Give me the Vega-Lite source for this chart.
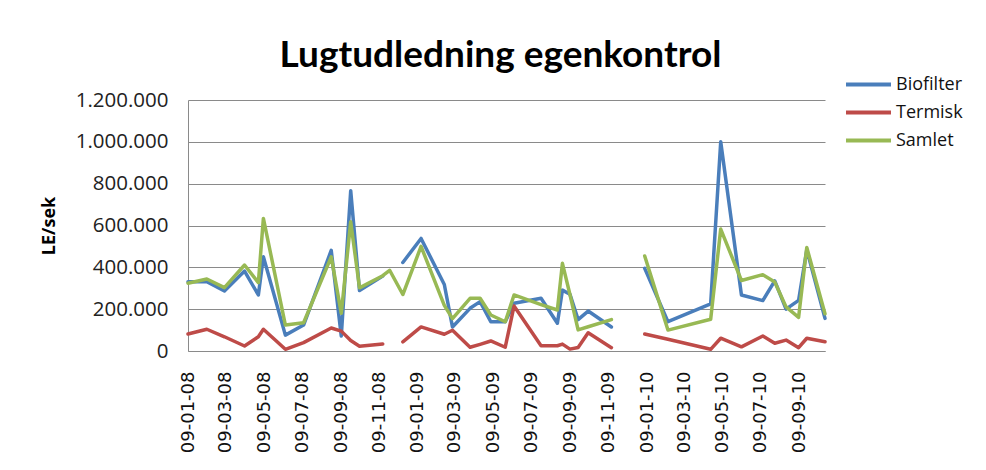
{
  "$schema": "https://vega.github.io/schema/vega-lite/v6.json",
  "autosize": {"type": "none"},
  "width": 637,
  "height": 251,
  "padding": {"left": 188, "top": 100, "right": 161, "bottom": 119},
  "background": "white",
  "config": {
    "locale": {"number": {"decimal": ",", "thousands": ".", "grouping": [3], "currency": ["", " kr."]}},
    "view": {"stroke": null},
    "axis": {"gridColor": "#8a8a8a", "gridWidth": 1, "domainColor": "#8a8a8a", "domainWidth": 1, "ticks": false}
  },
  "title": {"text": "Lugtudledning egenkontrol", "font": "Lato", "fontSize": 37, "fontWeight": "bold", "color": "#000000", "anchor": "middle", "offset": -4, "dx": -6},
  "data": {"values": [
    {"date": "2008-01-09", "serie": "Biofilter", "value": 331000},
    {"date": "2008-02-08", "serie": "Biofilter", "value": 331000},
    {"date": "2008-03-07", "serie": "Biofilter", "value": 287000},
    {"date": "2008-04-08", "serie": "Biofilter", "value": 382000},
    {"date": "2008-04-30", "serie": "Biofilter", "value": 268000},
    {"date": "2008-05-08", "serie": "Biofilter", "value": 451000},
    {"date": "2008-06-12", "serie": "Biofilter", "value": 76000},
    {"date": "2008-07-11", "serie": "Biofilter", "value": 124000},
    {"date": "2008-08-24", "serie": "Biofilter", "value": 481000},
    {"date": "2008-09-09", "serie": "Biofilter", "value": 72000},
    {"date": "2008-09-24", "serie": "Biofilter", "value": 766000},
    {"date": "2008-10-08", "serie": "Biofilter", "value": 289000},
    {"date": "2008-11-14", "serie": "Biofilter", "value": 358000},
    {"date": "2008-11-25", "serie": "Biofilter", "value": null},
    {"date": "2008-12-16", "serie": "Biofilter", "value": 423000},
    {"date": "2009-01-14", "serie": "Biofilter", "value": 538000},
    {"date": "2009-02-20", "serie": "Biofilter", "value": 318000},
    {"date": "2009-03-05", "serie": "Biofilter", "value": 115000},
    {"date": "2009-04-02", "serie": "Biofilter", "value": 204000},
    {"date": "2009-04-18", "serie": "Biofilter", "value": 236000},
    {"date": "2009-05-05", "serie": "Biofilter", "value": 140000},
    {"date": "2009-05-28", "serie": "Biofilter", "value": 140000},
    {"date": "2009-06-11", "serie": "Biofilter", "value": 228000},
    {"date": "2009-07-24", "serie": "Biofilter", "value": 252000},
    {"date": "2009-08-19", "serie": "Biofilter", "value": 133000},
    {"date": "2009-08-27", "serie": "Biofilter", "value": 291000},
    {"date": "2009-09-08", "serie": "Biofilter", "value": 271000},
    {"date": "2009-09-21", "serie": "Biofilter", "value": 150000},
    {"date": "2009-10-07", "serie": "Biofilter", "value": 191000},
    {"date": "2009-11-13", "serie": "Biofilter", "value": 115000},
    {"date": "2009-12-09", "serie": "Biofilter", "value": null},
    {"date": "2010-01-05", "serie": "Biofilter", "value": 395000},
    {"date": "2010-02-11", "serie": "Biofilter", "value": 140000},
    {"date": "2010-04-20", "serie": "Biofilter", "value": 225000},
    {"date": "2010-05-06", "serie": "Biofilter", "value": 1000000},
    {"date": "2010-06-08", "serie": "Biofilter", "value": 268000},
    {"date": "2010-07-12", "serie": "Biofilter", "value": 241000},
    {"date": "2010-07-31", "serie": "Biofilter", "value": 335000},
    {"date": "2010-08-18", "serie": "Biofilter", "value": 200000},
    {"date": "2010-09-07", "serie": "Biofilter", "value": 242000},
    {"date": "2010-09-20", "serie": "Biofilter", "value": 484000},
    {"date": "2010-10-19", "serie": "Biofilter", "value": 156000},

    {"date": "2008-01-09", "serie": "Termisk", "value": 81000},
    {"date": "2008-02-08", "serie": "Termisk", "value": 104000},
    {"date": "2008-03-07", "serie": "Termisk", "value": 68000},
    {"date": "2008-04-08", "serie": "Termisk", "value": 24000},
    {"date": "2008-04-30", "serie": "Termisk", "value": 68000},
    {"date": "2008-05-08", "serie": "Termisk", "value": 104000},
    {"date": "2008-06-12", "serie": "Termisk", "value": 8000},
    {"date": "2008-07-11", "serie": "Termisk", "value": 40000},
    {"date": "2008-08-24", "serie": "Termisk", "value": 110000},
    {"date": "2008-09-09", "serie": "Termisk", "value": 95000},
    {"date": "2008-09-24", "serie": "Termisk", "value": 50000},
    {"date": "2008-10-08", "serie": "Termisk", "value": 23000},
    {"date": "2008-11-14", "serie": "Termisk", "value": 34000},
    {"date": "2008-11-25", "serie": "Termisk", "value": null},
    {"date": "2008-12-16", "serie": "Termisk", "value": 44000},
    {"date": "2009-01-14", "serie": "Termisk", "value": 115000},
    {"date": "2009-02-20", "serie": "Termisk", "value": 80000},
    {"date": "2009-03-05", "serie": "Termisk", "value": 99000},
    {"date": "2009-04-02", "serie": "Termisk", "value": 18000},
    {"date": "2009-04-18", "serie": "Termisk", "value": 32000},
    {"date": "2009-05-05", "serie": "Termisk", "value": 48000},
    {"date": "2009-05-28", "serie": "Termisk", "value": 18000},
    {"date": "2009-06-11", "serie": "Termisk", "value": 215000},
    {"date": "2009-07-24", "serie": "Termisk", "value": 25000},
    {"date": "2009-08-19", "serie": "Termisk", "value": 25000},
    {"date": "2009-08-27", "serie": "Termisk", "value": 33000},
    {"date": "2009-09-08", "serie": "Termisk", "value": 9000},
    {"date": "2009-09-21", "serie": "Termisk", "value": 17000},
    {"date": "2009-10-07", "serie": "Termisk", "value": 87000},
    {"date": "2009-11-13", "serie": "Termisk", "value": 16000},
    {"date": "2009-12-09", "serie": "Termisk", "value": null},
    {"date": "2010-01-05", "serie": "Termisk", "value": 81000},
    {"date": "2010-02-11", "serie": "Termisk", "value": 56000},
    {"date": "2010-04-20", "serie": "Termisk", "value": 8000},
    {"date": "2010-05-06", "serie": "Termisk", "value": 61000},
    {"date": "2010-06-08", "serie": "Termisk", "value": 20000},
    {"date": "2010-07-12", "serie": "Termisk", "value": 72000},
    {"date": "2010-07-31", "serie": "Termisk", "value": 37000},
    {"date": "2010-08-18", "serie": "Termisk", "value": 52000},
    {"date": "2010-09-07", "serie": "Termisk", "value": 16000},
    {"date": "2010-09-20", "serie": "Termisk", "value": 61000},
    {"date": "2010-10-19", "serie": "Termisk", "value": 44000},

    {"date": "2008-01-09", "serie": "Samlet", "value": 324000},
    {"date": "2008-02-08", "serie": "Samlet", "value": 344000},
    {"date": "2008-03-07", "serie": "Samlet", "value": 303000},
    {"date": "2008-04-08", "serie": "Samlet", "value": 411000},
    {"date": "2008-04-30", "serie": "Samlet", "value": 327000},
    {"date": "2008-05-08", "serie": "Samlet", "value": 634000},
    {"date": "2008-06-12", "serie": "Samlet", "value": 124000},
    {"date": "2008-07-11", "serie": "Samlet", "value": 135000},
    {"date": "2008-08-24", "serie": "Samlet", "value": 450000},
    {"date": "2008-09-09", "serie": "Samlet", "value": 180000},
    {"date": "2008-09-24", "serie": "Samlet", "value": 618000},
    {"date": "2008-10-08", "serie": "Samlet", "value": 302000},
    {"date": "2008-11-14", "serie": "Samlet", "value": 360000},
    {"date": "2008-11-25", "serie": "Samlet", "value": 386000},
    {"date": "2008-12-16", "serie": "Samlet", "value": 270000},
    {"date": "2009-01-14", "serie": "Samlet", "value": 500000},
    {"date": "2009-02-20", "serie": "Samlet", "value": 218000},
    {"date": "2009-03-05", "serie": "Samlet", "value": 155000},
    {"date": "2009-04-02", "serie": "Samlet", "value": 252000},
    {"date": "2009-04-18", "serie": "Samlet", "value": 252000},
    {"date": "2009-05-05", "serie": "Samlet", "value": 172000},
    {"date": "2009-05-28", "serie": "Samlet", "value": 140000},
    {"date": "2009-06-11", "serie": "Samlet", "value": 268000},
    {"date": "2009-07-24", "serie": "Samlet", "value": 222000},
    {"date": "2009-08-19", "serie": "Samlet", "value": 196000},
    {"date": "2009-08-27", "serie": "Samlet", "value": 419000},
    {"date": "2009-09-08", "serie": "Samlet", "value": 270000},
    {"date": "2009-09-21", "serie": "Samlet", "value": 101000},
    {"date": "2009-10-07", "serie": "Samlet", "value": 116000},
    {"date": "2009-11-13", "serie": "Samlet", "value": 150000},
    {"date": "2009-12-09", "serie": "Samlet", "value": null},
    {"date": "2010-01-05", "serie": "Samlet", "value": 454000},
    {"date": "2010-02-11", "serie": "Samlet", "value": 100000},
    {"date": "2010-04-20", "serie": "Samlet", "value": 152000},
    {"date": "2010-05-06", "serie": "Samlet", "value": 583000},
    {"date": "2010-06-08", "serie": "Samlet", "value": 337000},
    {"date": "2010-07-12", "serie": "Samlet", "value": 365000},
    {"date": "2010-07-31", "serie": "Samlet", "value": 330000},
    {"date": "2010-08-18", "serie": "Samlet", "value": 211000},
    {"date": "2010-09-07", "serie": "Samlet", "value": 161000},
    {"date": "2010-09-20", "serie": "Samlet", "value": 495000},
    {"date": "2010-10-19", "serie": "Samlet", "value": 178000}
  ]},
  "mark": {"type": "line", "strokeWidth": 3.5, "strokeJoin": "round", "strokeCap": "round", "invalid": "break-paths-filter-domains", "clip": false},
  "encoding": {
    "x": {
      "field": "date", "type": "temporal",
      "scale": {"type": "utc", "domain": [{"year": 2008, "month": 1, "date": 9, "utc": true}, {"year": 2010, "month": 10, "date": 19, "utc": true}], "nice": false},
      "axis": {
        "title": null, "grid": false, "format": "%d-%m-%y", "labelAngle": 270, "labelPadding": 20,
        "labelFont": "DejaVu Sans", "labelFontSize": 18, "labelColor": "#111111", "labelOverlap": false, "labelBound": false, "labelFlush": false,
        "values": [
          {"year": 2008, "month": 1, "date": 9, "utc": true},
          {"year": 2008, "month": 3, "date": 9, "utc": true},
          {"year": 2008, "month": 5, "date": 9, "utc": true},
          {"year": 2008, "month": 7, "date": 9, "utc": true},
          {"year": 2008, "month": 9, "date": 9, "utc": true},
          {"year": 2008, "month": 11, "date": 9, "utc": true},
          {"year": 2009, "month": 1, "date": 9, "utc": true},
          {"year": 2009, "month": 3, "date": 9, "utc": true},
          {"year": 2009, "month": 5, "date": 9, "utc": true},
          {"year": 2009, "month": 7, "date": 9, "utc": true},
          {"year": 2009, "month": 9, "date": 9, "utc": true},
          {"year": 2009, "month": 11, "date": 9, "utc": true},
          {"year": 2010, "month": 1, "date": 9, "utc": true},
          {"year": 2010, "month": 3, "date": 9, "utc": true},
          {"year": 2010, "month": 5, "date": 9, "utc": true},
          {"year": 2010, "month": 7, "date": 9, "utc": true},
          {"year": 2010, "month": 9, "date": 9, "utc": true}
        ]
      }
    },
    "y": {
      "field": "value", "type": "quantitative",
      "scale": {"domain": [0, 1200000], "nice": false},
      "axis": {
        "title": "LE/sek", "titleFont": "Open Sans", "titleFontSize": 18, "titleFontWeight": "bold", "titleColor": "#000000", "titlePadding": 17,
        "values": [0, 200000, 400000, 600000, 800000, 1000000, 1200000], "format": ",d",
        "labelFont": "Open Sans", "labelFontSize": 20.5, "labelColor": "#222222", "labelPadding": 20
      }
    },
    "color": {
      "field": "serie", "type": "nominal",
      "scale": {"domain": ["Biofilter", "Termisk", "Samlet"], "range": ["#4A7EBB", "#BE4B48", "#98B954"]},
      "legend": {
        "title": null, "orient": "none", "legendX": 667, "legendY": -29,
        "symbolType": "M-2,0H2", "symbolSize": 506, "symbolStrokeWidth": 4,
        "labelFont": "Open Sans", "labelFontSize": 18, "labelColor": "#111111", "labelOffset": 14, "rowPadding": 5
      }
    },
    "order": {"field": "date", "type": "temporal"}
  }
}
